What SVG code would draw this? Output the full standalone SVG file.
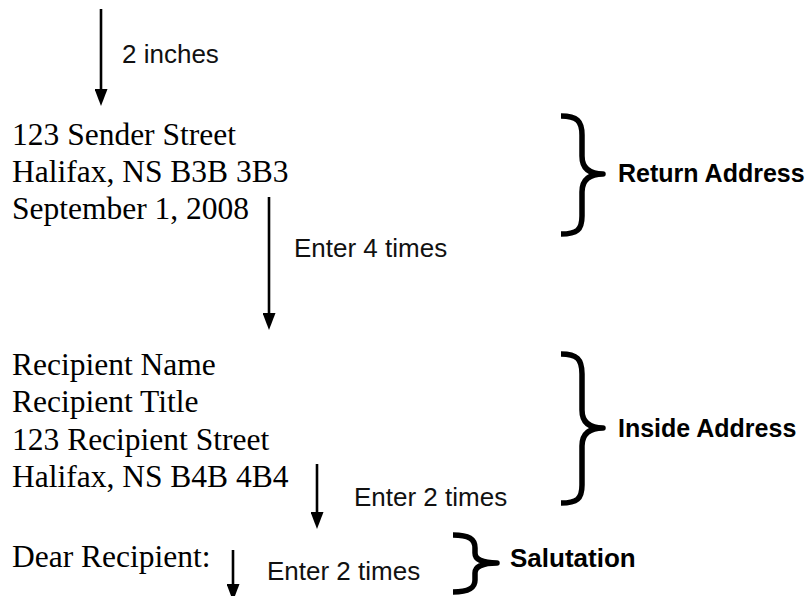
<svg xmlns="http://www.w3.org/2000/svg" width="810" height="596" viewBox="0 0 810 596">
<defs>
<marker id="ah" viewBox="0 0 17 13" refX="0" refY="6.5" markerWidth="17" markerHeight="13" markerUnits="userSpaceOnUse" orient="auto">
<path d="M0,0 L17,6.5 L0,13 Z" fill="#000"/>
</marker>
<style>
.serif{font-family:"Liberation Serif","Times New Roman",serif;font-size:31.5px;fill:#000}
.note{font-family:"Liberation Sans",Arial,sans-serif;font-size:26px;fill:#111}
.lbl{font-family:"Liberation Sans",Arial,sans-serif;font-size:25px;font-weight:bold;fill:#000}
.arrow{stroke:#000;stroke-width:2.6;fill:none;marker-end:url(#ah)}
.brace{stroke:#000;stroke-width:5.5;fill:none;stroke-linecap:butt;stroke-linejoin:round}
</style>
</defs>
<rect width="810" height="596" fill="#fff"/>
<g id="connectors">
<line class="arrow" x1="101" y1="9" x2="101" y2="89"/>
<line class="arrow" x1="269" y1="197" x2="269" y2="313"/>
<line class="arrow" x1="317" y1="464" x2="317" y2="512"/>
<line class="arrow" x1="233" y1="550" x2="233" y2="584"/>
</g>
<g id="note-2inches"><text class="note" x="122" y="63">2 inches</text></g>
<g id="return-lines">
<text class="serif" x="12" y="145">123 Sender Street</text>
<text class="serif" x="12" y="182">Halifax, NS B3B 3B3</text>
<text class="serif" x="12" y="219">September 1, 2008</text>
</g>
<g id="return-address">
<path class="brace" d="M561,116 C577,116 582,121 582,135 L582,156 C582,167 588,174 603,174 C588,174 582,181 582,192 L582,216 C582,230 577,234 561,234"/>
<text class="lbl" x="618" y="182">Return Address</text>
</g>
<g id="note-enter4"><text class="note" x="294" y="257">Enter 4 times</text></g>
<g id="inside-lines">
<text class="serif" x="12" y="375">Recipient Name</text>
<text class="serif" x="12" y="412">Recipient Title</text>
<text class="serif" x="12" y="450">123 Recipient Street</text>
<text class="serif" x="12" y="487">Halifax, NS B4B 4B4</text>
</g>
<g id="inside-address">
<path class="brace" d="M561,354 C577,354 582,359 582,374 L582,410 C582,421 588,428 603,428 C588,428 582,435 582,446 L582,485 C582,499 577,503 561,503"/>
<text class="lbl" x="618" y="437">Inside Address</text>
</g>
<g id="note-enter2a"><text class="note" x="354" y="506">Enter 2 times</text></g>
<g id="salutation-line"><text class="serif" x="12" y="567">Dear Recipient:</text></g>
<g id="note-enter2b"><text class="note" x="267" y="580">Enter 2 times</text></g>
<g id="salutation">
<path class="brace" d="M453,535 C469,535 475,539 475,548 L475,553 C475,559 482,563 497,563 C482,563 475,567 475,573 L475,580 C475,588 469,592 453,592"/>
<text class="lbl" x="510" y="567" style="font-size:26px">Salutation</text>
</g>
</svg>
